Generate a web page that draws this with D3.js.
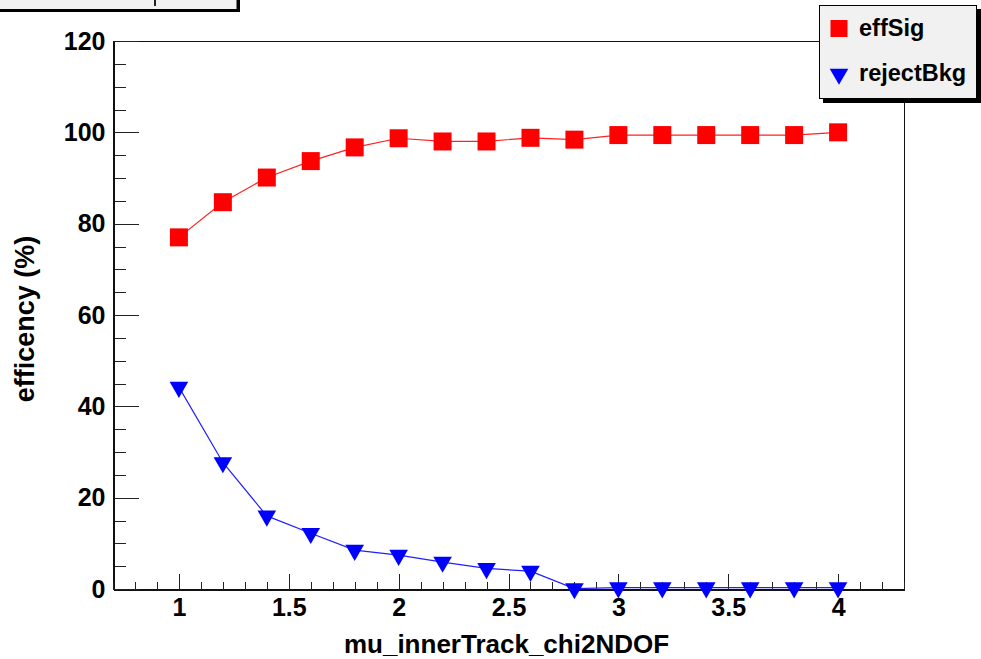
<!DOCTYPE html>
<html>
<head>
<meta charset="utf-8">
<script src="https://cdn.jsdelivr.net/npm/d3@7"></script>
<style>
  body { margin: 0; background: #fff; }
  svg { display: block; font-family: "Liberation Sans", Arial, Helvetica, sans-serif; font-weight: bold; }
</style>
</head>
<body>
<svg width="981" height="659"></svg>
<script>
// cut values on the x axis
var cutValues = [1.0, 1.2, 1.4, 1.6, 1.8, 2.0, 2.2, 2.4, 2.6, 2.8, 3.0, 3.2, 3.4, 3.6, 3.8, 4.0];
// signal efficiency (%)
var effSig = [77.0, 84.7, 90.1, 93.7, 96.7, 98.7, 98.0, 98.0, 98.8, 98.4, 99.4, 99.4, 99.4, 99.4, 99.4, 100.0];
// background rejection (%)
var rejectBkg = [44.2, 27.7, 16.0, 12.2, 8.5, 7.4, 5.9, 4.5, 3.9, 0.1, 0.3, 0.3, 0.3, 0.3, 0.3, 0.3];
var xMajorTicks = [1, 1.5, 2, 2.5, 3, 3.5, 4];
var yMajorTicks = [0, 20, 40, 60, 80, 100, 120];
var seriesNames = ["effSig", "rejectBkg"];
var xTitle = "mu_innerTrack_chi2NDOF";
var yTitle = "efficency (%)";

var svg = d3.select("svg");
var frame = {left: 113, right: 904, top: 41, bottom: 589};

var x = d3.scaleLinear().domain([0.7, 4.3]).range([frame.left, frame.right]);
var y = d3.scaleLinear().domain([0, 120]).range([frame.bottom, frame.top]);

/*  TITLE BOX (cut off at top)  */
svg.append("rect").attr("x", -5).attr("y", -5).attr("width", 245).attr("height", 17).attr("fill", "#000");
svg.append("rect").attr("x", -5).attr("y", -5).attr("width", 242).attr("height", 14.5)
  .attr("fill", "#f1f1f1").attr("stroke", "#000").attr("stroke-width", 1);
svg.append("line").attr("x1", 155).attr("x2", 155).attr("y1", 0).attr("y2", 6)
  .attr("stroke", "#222").attr("stroke-width", 2);

/*  FRAME  */
svg.append("rect")
  .attr("x", frame.left + 0.5).attr("y", frame.top + 0.5)
  .attr("width", frame.right - frame.left).attr("height", frame.bottom - frame.top)
  .attr("fill", "#fff").attr("stroke", "#111").attr("stroke-width", 1)
  .attr("shape-rendering", "crispEdges");

/*  AXES  */
var xMinor = d3.range(7, 44).map(function(d) { return d / 10; });
var yMinor = d3.range(0, 121, 5);

svg.append("g").attr("class", "xminor")
  .attr("transform", "translate(0," + (frame.bottom + 0.5) + ")")
  .call(d3.axisBottom(x).tickValues(xMinor).tickSize(-8).tickSizeOuter(0).tickFormat(""));
svg.append("g").attr("class", "xmajor")
  .attr("transform", "translate(0," + (frame.bottom + 0.5) + ")")
  .call(d3.axisBottom(x).tickValues(xMajorTicks).tickSize(-16).tickSizeOuter(0).tickPadding(9)
    .tickFormat(function(d) { return d3.format("")(d); }));

svg.append("g").attr("class", "yminor")
  .attr("transform", "translate(" + (frame.left + 0.5) + ",0)")
  .call(d3.axisLeft(y).tickValues(yMinor).tickSize(-12).tickSizeOuter(0).tickFormat(""));
svg.append("g").attr("class", "ymajor")
  .attr("transform", "translate(" + (frame.left + 0.5) + ",0)")
  .call(d3.axisLeft(y).tickValues(yMajorTicks).tickSize(-25).tickSizeOuter(0).tickPadding(8));

svg.selectAll(".tick line").attr("stroke", "#222").attr("shape-rendering", "crispEdges");
svg.selectAll(".domain").attr("stroke", "#111").attr("shape-rendering", "crispEdges");
svg.selectAll(".xmajor text").attr("font-size", 25).attr("fill", "#000")
  .attr("font-family", "Liberation Sans, Arial, sans-serif").attr("font-weight", "bold");
svg.selectAll(".ymajor text").attr("font-size", 25).attr("fill", "#000")
  .attr("font-family", "Liberation Sans, Arial, sans-serif").attr("font-weight", "bold");

/*  AXIS TITLES  */
svg.append("text").attr("x", (frame.left + frame.right) / 2 - 2).attr("y", 653)
  .attr("text-anchor", "middle").attr("font-size", 26).text(xTitle);
svg.append("text").attr("transform", "translate(34," + 319 + ") rotate(-90)")
  .attr("text-anchor", "middle").attr("font-size", 27).text(yTitle);

/*  SERIES  */
var line = d3.line()
  .x(function(d, i) { return x(cutValues[i]); })
  .y(function(d) { return y(d); });

svg.append("path").datum(effSig).attr("d", line)
  .attr("fill", "none").attr("stroke", "#ff2020").attr("stroke-width", 1.2);
svg.append("path").datum(rejectBkg).attr("d", line)
  .attr("fill", "none").attr("stroke", "#2020ff").attr("stroke-width", 1.2);

var square = d3.symbol().type(d3.symbolSquare).size(18 * 18);
var triangle = d3.symbol().type(d3.symbolTriangle).size(150);

svg.append("g").selectAll("path").data(effSig).enter().append("path")
  .attr("d", square)
  .attr("transform", function(d, i) { return "translate(" + x(cutValues[i]) + "," + y(d) + ")"; })
  .attr("fill", "#ff0000");

svg.append("g").selectAll("path").data(rejectBkg).enter().append("path")
  .attr("d", triangle)
  .attr("transform", function(d, i) { return "translate(" + x(cutValues[i]) + "," + y(d) + ") rotate(180)"; })
  .attr("fill", "#0000ff");

/*  LEGEND  */
var legend = svg.append("g");
legend.append("rect").attr("x", 823).attr("y", 9).attr("width", 158).attr("height", 94).attr("fill", "#000");
legend.append("rect").attr("x", 819.5).attr("y", 5.5).attr("width", 157).attr("height", 93)
  .attr("fill", "#f1f1f1").attr("stroke", "#000").attr("stroke-width", 1);

legend.append("path").attr("d", square.size(17 * 17)).attr("transform", "translate(839,28.5)").attr("fill", "#ff0000");
legend.append("path").attr("d", triangle.size(150)).attr("transform", "translate(839,74) rotate(180)").attr("fill", "#0000ff");

legend.selectAll("text.lbl").data(seriesNames).enter().append("text")
  .attr("class", "lbl")
  .attr("x", 859).attr("y", function(d, i) { return 36 + i * 45; })
  .attr("font-size", 23.5).text(function(d) { return d; });
</script>
</body>
</html>
